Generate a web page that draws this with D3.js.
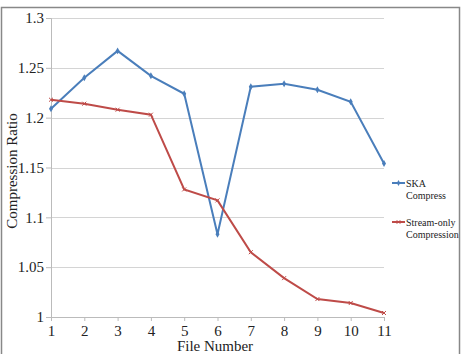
<!DOCTYPE html>
<html>
<head>
<meta charset="utf-8">
<script src="https://cdn.jsdelivr.net/npm/d3@7"></script>
<style>
  body { margin: 0; background: #fff; }
  svg text { font-family: "Liberation Serif", "DejaVu Serif", serif !important; }
</style>
</head>
<body>
<div id="chart"></div>
<script>
const files = [1, 2, 3, 4, 5, 6, 7, 8, 9, 10, 11];
const skaCompress = [1.209, 1.240, 1.267, 1.242, 1.224, 1.083, 1.231, 1.234, 1.228, 1.216, 1.154];
const streamOnly = [1.218, 1.214, 1.208, 1.203, 1.128, 1.117, 1.065, 1.039, 1.018, 1.014, 1.004];
const yTicks = [1, 1.05, 1.1, 1.15, 1.2, 1.25, 1.3];
const yTickLabels = ["1", "1.05", "1.1", "1.15", "1.2", "1.25", "1.3"];

const BLUE = "#4a7ebb";
const RED = "#be4b48";

let width = 462;
let height = 354;

let svg = d3.select("#chart")
  .append("svg")
  .attr("width", width)
  .attr("height", height);

// outer frame
svg.append("rect")
  .attr("x", 1.5).attr("y", 7.5)
  .attr("width", 458).attr("height", 350)
  .attr("fill", "#fff")
  .attr("stroke", "#888")
  .attr("stroke-width", 1.5);

let x = d3.scaleLinear().domain([1, 11]).range([51, 384]);
let y = d3.scaleLinear().domain([1, 1.3]).range([317, 18]);

// gridlines
svg.append("g")
  .selectAll("line")
  .data(yTicks.slice(1))
  .join("line")
  .attr("x1", x(1)).attr("x2", x(11))
  .attr("y1", d => Math.round(y(d)) + 0.5)
  .attr("y2", d => Math.round(y(d)) + 0.5)
  .attr("stroke", "#d4d4d4")
  .attr("stroke-width", 1.2);

// y axis
let yAxis = svg.append("g")
  .attr("transform", `translate(${x(1)},0)`)
  .call(d3.axisLeft(y).tickValues(yTicks).tickSize(5).tickPadding(2)
    .tickFormat((d, i) => yTickLabels[i]));
yAxis.select(".domain").attr("stroke", "#bbb");
yAxis.selectAll(".tick line").attr("stroke", "#bbb");
yAxis.selectAll("text")
  .style("font-size", "15px").attr("fill", "#222");

// x axis
let xAxis = svg.append("g")
  .attr("transform", `translate(0,${y(1)})`)
  .call(d3.axisBottom(x).tickValues(files).tickSize(4).tickPadding(4)
    .tickFormat(d3.format("d")));
xAxis.select(".domain").attr("stroke", "#bbb");
xAxis.selectAll(".tick line").attr("stroke", "#bbb");
xAxis.selectAll("text")
  .style("font-size", "15px").attr("fill", "#222");

// axis titles
svg.append("text")
  .attr("x", 215).attr("y", 351)
  .attr("text-anchor", "middle")
  .style("font-size", "15px").attr("fill", "#222")
  .text("File Number");

svg.append("text")
  .attr("transform", "translate(17,171) rotate(-90)")
  .attr("text-anchor", "middle")
  .style("font-size", "15px").attr("fill", "#222")
  .text("Compression Ratio");

let line = d3.line()
  .x((d, i) => x(files[i]))
  .y(d => y(d));

// SKA series
svg.append("path")
  .datum(skaCompress)
  .attr("d", line)
  .attr("fill", "none")
  .attr("stroke", BLUE)
  .attr("stroke-width", 2);

svg.append("g")
  .selectAll("path")
  .data(skaCompress)
  .join("path")
  .attr("d", d3.symbol().type(d3.symbolDiamond).size(14))
  .attr("transform", (d, i) => `translate(${x(files[i])},${y(d)})`)
  .attr("fill", BLUE);

// Stream-only series
svg.append("path")
  .datum(streamOnly)
  .attr("d", line)
  .attr("fill", "none")
  .attr("stroke", RED)
  .attr("stroke-width", 2);

svg.append("g")
  .selectAll("path")
  .data(streamOnly)
  .join("path")
  .attr("d", d3.symbol().type(d3.symbolX).size(12))
  .attr("transform", (d, i) => `translate(${x(files[i])},${y(d)})`)
  .attr("fill", "none")
  .attr("stroke", RED)
  .attr("stroke-width", 1);

// legend
let legend = [
  { color: BLUE, lines: ["SKA", "Compress"], y: 183, sym: d3.symbolDiamond },
  { color: RED, lines: ["Stream-only", "Compression"], y: 222, sym: d3.symbolX }
];

legend.forEach(function (l) {
  let g = svg.append("g");
  g.append("line")
    .attr("x1", 392).attr("x2", 405)
    .attr("y1", l.y).attr("y2", l.y)
    .attr("stroke", l.color).attr("stroke-width", 2);
  g.append("path")
    .attr("d", d3.symbol().type(l.sym).size(10))
    .attr("transform", `translate(398.5,${l.y})`)
    .attr("fill", l.sym === d3.symbolX ? "none" : l.color)
    .attr("stroke", l.sym === d3.symbolX ? l.color : "none");
  l.lines.forEach(function (t, i) {
    g.append("text")
      .attr("x", 406).attr("y", l.y + 4 + i * 12)
      .style("font-size", "10px").attr("fill", "#222")
      .text(t);
  });
});
</script>
</body>
</html>
